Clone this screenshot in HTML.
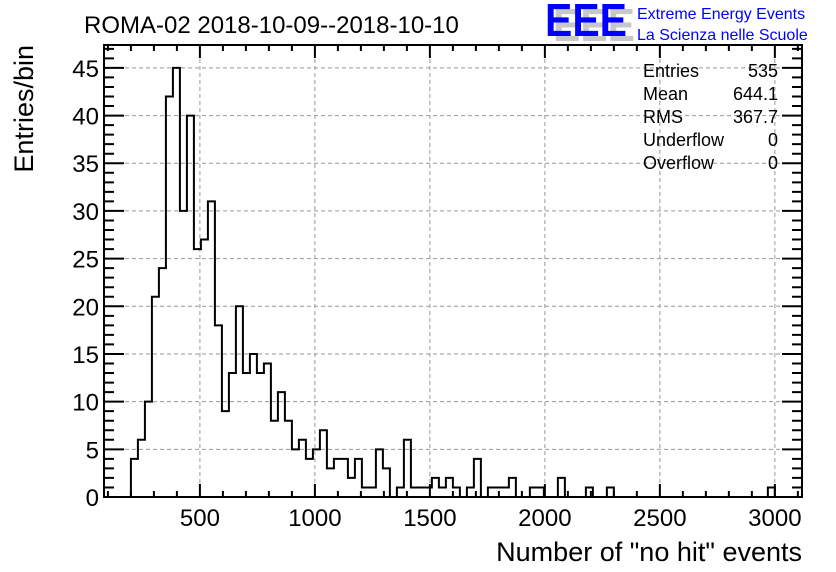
<!DOCTYPE html>
<html><head><meta charset="utf-8"><style>
html,body{margin:0;padding:0;background:#fff;}
svg{display:block;font-family:"Liberation Sans",sans-serif;}
</style></head><body>
<svg id="chart" width="836" height="572" viewBox="0 0 836 572" xmlns="http://www.w3.org/2000/svg">
<rect width="836" height="572" fill="#fff"/>
<text x="84" y="33" font-size="24" fill="#000">ROMA-02 2018-10-09--2018-10-10</text>
<g>
<text x="553" y="41" font-size="46" font-weight="bold" fill="#c8c8c8" textLength="82" lengthAdjust="spacingAndGlyphs">EEE</text>
<text x="545" y="36" font-size="46" font-weight="bold" fill="#0000ff" textLength="82" lengthAdjust="spacingAndGlyphs">EEE</text>
<text x="637" y="19" font-size="16" fill="#0000ff">Extreme Energy Events</text>
<text x="637" y="40" font-size="16" fill="#0000ff">La Scienza nelle Scuole</text>
</g>
<g id="grid"></g>
<g id="axes"></g>
<path id="hist" fill="none" stroke="#000" stroke-width="2"/>
<rect x="104" y="45" width="698" height="452" fill="none" stroke="#000" stroke-width="2"/>
<g font-size="18" fill="#000">
<text x="643" y="77">Entries</text><text x="778" y="77" text-anchor="end">535</text>
<text x="643" y="100">Mean</text><text x="778" y="100" text-anchor="end">644.1</text>
<text x="643" y="123">RMS</text><text x="778" y="123" text-anchor="end">367.7</text>
<text x="643" y="146">Underflow</text><text x="778" y="146" text-anchor="end">0</text>
<text x="643" y="169">Overflow</text><text x="778" y="169" text-anchor="end">0</text>
</g>
<text x="802" y="561" font-size="27" text-anchor="end" fill="#000">Number of "no hit" events</text>
<text transform="translate(33,45) rotate(-90)" font-size="27" text-anchor="end" fill="#000">Entries/bin</text>
</svg>
<script>
const binStart = 200;
const binEnd = 3000;
const counts = [4,6,10,21,24,42,45,30,40,26,27,31,18,9,13,20,13,15,13,14,8,11,8,5,6,4,5,7,3,4,4,2,4,1,1,5,3,0,1,6,1,1,1,2,1,2,1,0,1,4,0,1,1,1,2,0,0,1,1,0,0,2,0,0,0,1,0,0,1,0,0,0,0,0,0,0,0,0,0,0,0,0,0,0,0,0,0,0,0,0,0,1];
const xTicks = [500,1000,1500,2000,2500,3000];
const yTicks = [0,5,10,15,20,25,30,35,40,45];
const xMin = 83, xMax = 3118, yMin = 0, yMax = 47.4;
const L = 104, R = 802, T = 45, B = 497;
const NS = 'http://www.w3.org/2000/svg';
function sx(v){ return L + (v - xMin) / (xMax - xMin) * (R - L); }
function sy(v){ return B - (v - yMin) / (yMax - yMin) * (B - T); }
function mk(tag, attrs, parent){ const e = document.createElementNS(NS, tag); for (const k in attrs) e.setAttribute(k, attrs[k]); parent.appendChild(e); return e; }
const grid = document.getElementById('grid');
const axes = document.getElementById('axes');
xTicks.forEach(v => {
  const l = mk('line', {x1: sx(v), x2: sx(v), y1: T, y2: B, stroke: '#999', 'stroke-dasharray': '4,3', 'stroke-width': 1}, grid);
  
  
  const t = mk('text', {x: sx(v), y: 526, 'font-size': 24, 'text-anchor': 'middle'}, axes);
  t.textContent = v;
  
  
});
yTicks.forEach(v => {
  if (v > 0) {
    const l = mk('line', {x1: L, x2: R, y1: sy(v), y2: sy(v), stroke: '#999', 'stroke-dasharray': '4,3', 'stroke-width': 1}, grid);
    
    
  }
  const t = mk('text', {x: 99, y: sy(v) + 9, 'font-size': 24, 'text-anchor': 'end'}, axes);
  t.textContent = v;
  
  
});
let ticks = '';
for (let v = 100; v <= xMax; v += 100) {
  const x = sx(v), len = (v % 500 === 0) ? 13 : 6;
  ticks += `M${x},${B}V${B-len}M${x},${T}V${T+len}`;
}
for (let v = 0; v <= 47; v += 1) {
  const y = sy(v), len = (v % 5 === 0) ? 20 : 10;
  ticks += `M${L},${y}H${L+len}M${R},${y}H${R-len}`;
}
const tp = mk('path', {d: ticks, stroke: '#000', 'stroke-width': 2, fill: 'none'}, axes);


const w = (binEnd - binStart) / counts.length;
let d = `M${sx(binStart)},${sy(0)}`;
counts.forEach((c, i) => {
  d += `V${sy(c)}H${sx(binStart + (i + 1) * w)}`;
});
d += `V${sy(0)}`;
document.getElementById('hist').setAttribute('d', d);
</script>
</body></html>
